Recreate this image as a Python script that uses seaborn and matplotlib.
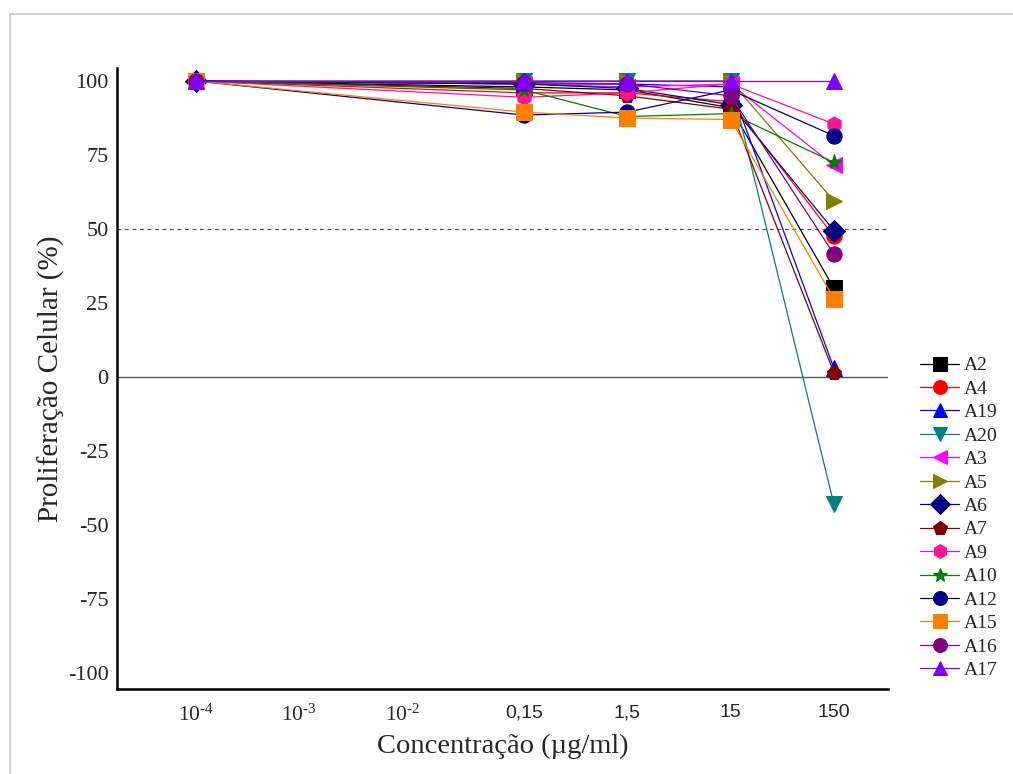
import numpy as np
import pandas as pd
import seaborn as sns
import matplotlib.pyplot as plt
from matplotlib.lines import Line2D

# dados
conc = [1e-4, 0.15, 1.5, 15, 150]
amostras = ['A2', 'A4', 'A19', 'A20', 'A3', 'A5', 'A6', 'A7', 'A9', 'A10', 'A12', 'A15', 'A16', 'A17']
A2 = [100, 98, 97, 91, 30]
A4 = [100, 96, 96, 93, 47.5]
A19 = [100, 99, 99, 98, 3]
A20 = [100, 100, 100, 100, -43]
A3 = [100, 99, 98, 99, 71.5]
A5 = [100, 100, 100, 100, 59.5]
A6 = [100, 99, 97.5, 92, 49.5]
A7 = [100, 97.5, 95, 90.5, 1.5]
A9 = [100, 94.5, 96, 99, 85.5]
A10 = [100, 97, 88, 89, 72.5]
A12 = [100, 88.5, 89.5, 97, 81.5]
A15 = [100, 89.5, 87.5, 87, 26.5]
A16 = [100, 99.5, 99, 95, 41.5]
A17 = [100, 100, 100, 100, 100]
valores = [A2, A4, A19, A20, A3, A5, A6, A7, A9, A10, A12, A15, A16, A17]

xticks = [1e-4, 1e-3, 1e-2, 0.15, 1.5, 15, 150]
xticklabels = [r'$\mathregular{10^{\text{-}4}}$', r'$\mathregular{10^{\text{-}3}}$',
               r'$\mathregular{10^{\text{-}2}}$', '0,15', '1,5', '15', '150']
yticks = [100, 75, 50, 25, 0, -25, -50, -75, -100]

cores = {'A2': '#000000', 'A4': '#ff0000', 'A19': '#0000ff', 'A20': '#008080',
         'A3': '#ff00ff', 'A5': '#808000', 'A6': '#000080', 'A7': '#800000',
         'A9': '#ff1493', 'A10': '#008000', 'A12': '#00008b', 'A15': '#ff8000',
         'A16': '#800080', 'A17': '#8000ff'}
marcadores = {'A2': 's', 'A4': 'o', 'A19': '^', 'A20': 'v', 'A3': '<', 'A5': '>',
              'A6': 'D', 'A7': 'p', 'A9': 'h', 'A10': '*', 'A12': 'o', 'A15': 's',
              'A16': 'o', 'A17': '^'}

linhas = []
for nome, vals in zip(amostras, valores):
    for c, v in zip(conc, vals):
        linhas.append({'conc': c, 'prolif': v, 'amostra': nome})
df = pd.DataFrame(linhas)

sns.set_style('white')
plt.rcParams['font.family'] = ['Liberation Serif', 'DejaVu Serif']
plt.rcParams['mathtext.fontset'] = 'custom'
plt.rcParams['mathtext.rm'] = 'Liberation Serif'
plt.rcParams['axes.unicode_minus'] = False

fig = plt.figure(figsize=(10.13, 7.74), dpi=100)
ax = fig.add_axes([117 / 1013, 1 - 689 / 774, (888 - 117) / 1013, (689 - 68) / 774])

sns.lineplot(data=df, x='conc', y='prolif', hue='amostra', style='amostra',
             hue_order=amostras, style_order=amostras, palette=cores,
             markers=marcadores, dashes=False, markersize=11, linewidth=0.9,
             ax=ax, legend=True)

for ln in ax.lines:
    ln.set_markeredgecolor(ln.get_color())

ax.axhline(0, color='#555555', lw=1.0, zorder=0)
ax.axhline(50, color='#555555', lw=0.9, ls=(0, (3, 3)), zorder=0)

ax.set_xscale('log')
ax.set_xlim(10 ** -4.765, 10 ** 2.70)
ax.set_ylim(-105.4, 104.4)
ax.set_xticks(xticks)
ax.set_xticklabels(xticklabels)
ax.minorticks_off()
ax.set_yticks(yticks)
ax.set_yticklabels([str(t) for t in yticks], fontsize=16)
for lab in ax.get_xticklabels():
    if lab.get_text().startswith('$'):
        lab.set_fontsize(15.5)
        lab.set_family('Liberation Serif')
    else:
        lab.set_fontsize(14)
        lab.set_family('Liberation Sans')
ax.tick_params(axis='x', length=3, color='#cccccc', pad=8)
ax.tick_params(axis='y', length=3, color='black', pad=3)

ax.set_xlabel('Concentração (µg/ml)', fontsize=20.5, labelpad=6)
ax.set_ylabel('Proliferação Celular (%)', fontsize=21, labelpad=2)

for s in ['top', 'right']:
    ax.spines[s].set_visible(False)
for s in ['left', 'bottom']:
    ax.spines[s].set_linewidth(1.8)
    ax.spines[s].set_color('black')

handles, labels = ax.get_legend_handles_labels()
for h in handles:
    h.set_markeredgecolor(h.get_color())
    h.set_markersize(10)
ax.legend(handles, labels, loc='upper left', bbox_to_anchor=(1.042, 0.535),
          frameon=False, fontsize=14, labelspacing=0.3, handlelength=2.0,
          handletextpad=0.25, borderaxespad=0, borderpad=0)

# moldura clara da imagem
fig.add_artist(Line2D([10 / 1013, 10 / 1013], [0, 1 - 14 / 774], color='#cccccc', lw=1.2))
fig.add_artist(Line2D([10 / 1013, 1], [1 - 14 / 774, 1 - 14 / 774], color='#cccccc', lw=1.2))

fig.savefig('out.png', dpi=100)
